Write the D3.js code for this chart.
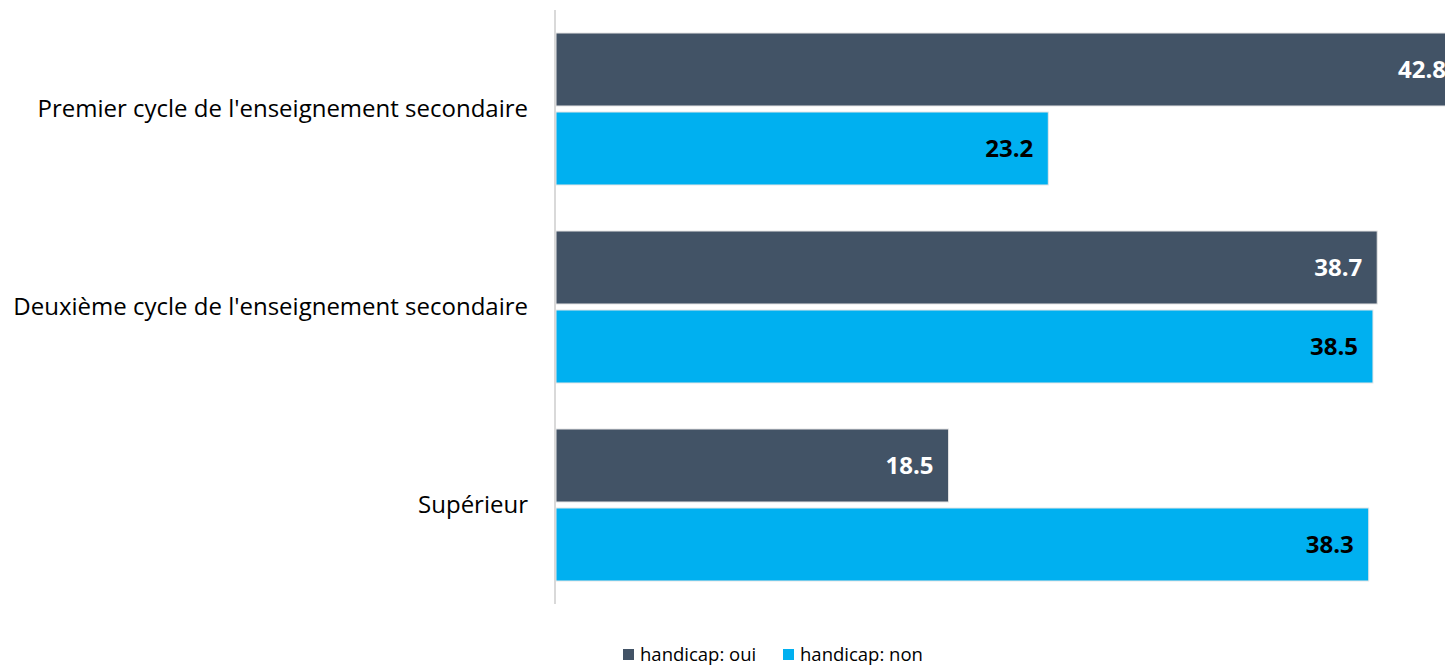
<!DOCTYPE html>
<html><head><meta charset="utf-8">
<script src="https://cdn.jsdelivr.net/npm/d3@7"></script>
<style>body{margin:0;background:#fff;}svg{display:block;font-family:"Open Sans",sans-serif;}</style>
</head><body><svg id="c" width="1445" height="665"></svg>
<script>
const categories = ["Premier cycle de l'enseignement secondaire","Deuxième cycle de l'enseignement secondaire","Supérieur"];
const seriesNames = ["handicap: oui","handicap: non"];
const seriesOui = [42.8, 38.7, 18.5];
const seriesNon = [23.2, 38.5, 38.3];
const colors = ["#425366","#00B0F0"];
const labelColors = ["#ffffff","#000000"];

(function(){
const svg = d3.select("#c");
const plotLeft = 556, plotTop = 10, plotBottom = 604;
const x = d3.scaleLinear().domain([0,40]).range([plotLeft, plotLeft + 40*21.22]);
const y = d3.scaleBand().domain(categories).range([plotTop,plotBottom]);
const barH = 73;
const offsets = [23, 102];

const data = [seriesOui, seriesNon];
data.forEach((vals, si) => {
  const g = svg.append("g");
  g.selectAll("rect").data(vals).enter().append("rect")
    .attr("x", plotLeft)
    .attr("y", (d,i) => y(categories[i]) + offsets[si])
    .attr("width", d => x(d) - plotLeft)
    .attr("height", barH)
    .attr("fill", colors[si])
    .attr("stroke", "#e6e6e6").attr("stroke-width", 1);
  g.selectAll("text").data(vals).enter().append("text")
    .attr("x", d => x(d) - 15 > 1445 ? 1398 : x(d) - 15)
    .attr("y", (d,i) => y(categories[i]) + offsets[si] + barH/2)
    .attr("dy", "0.35em")
    .attr("text-anchor", d => x(d) - 15 > 1445 ? "start" : "end")
    .attr("font-weight", "bold").attr("font-size", 24)
    .attr("fill", labelColors[si])
    .text(d => d.toFixed(1));
});

svg.append("line").attr("x1", 555).attr("x2", 555).attr("y1", plotTop).attr("y2", plotBottom)
  .attr("stroke", "#d9d9d9").attr("stroke-width", 2);

svg.append("g").selectAll("text").data(categories).enter().append("text")
  .attr("x", 528).attr("y", d => y(d) + y.bandwidth()/2)
  .attr("dy", "0.35em").attr("text-anchor", "end")
  .attr("font-size", 24).attr("fill", "#000").text(d => d);

const legX = [623, 783];
seriesNames.forEach((n, i) => {
  svg.append("rect").attr("x", legX[i]).attr("y", 649).attr("width", 11).attr("height", 11).attr("fill", colors[i]);
  svg.append("text").attr("x", legX[i] + 17).attr("y", 655).attr("dy", "0.35em")
    .attr("font-size", 18.5).attr("fill", "#000").text(n);
});
})();
</script></body></html>
